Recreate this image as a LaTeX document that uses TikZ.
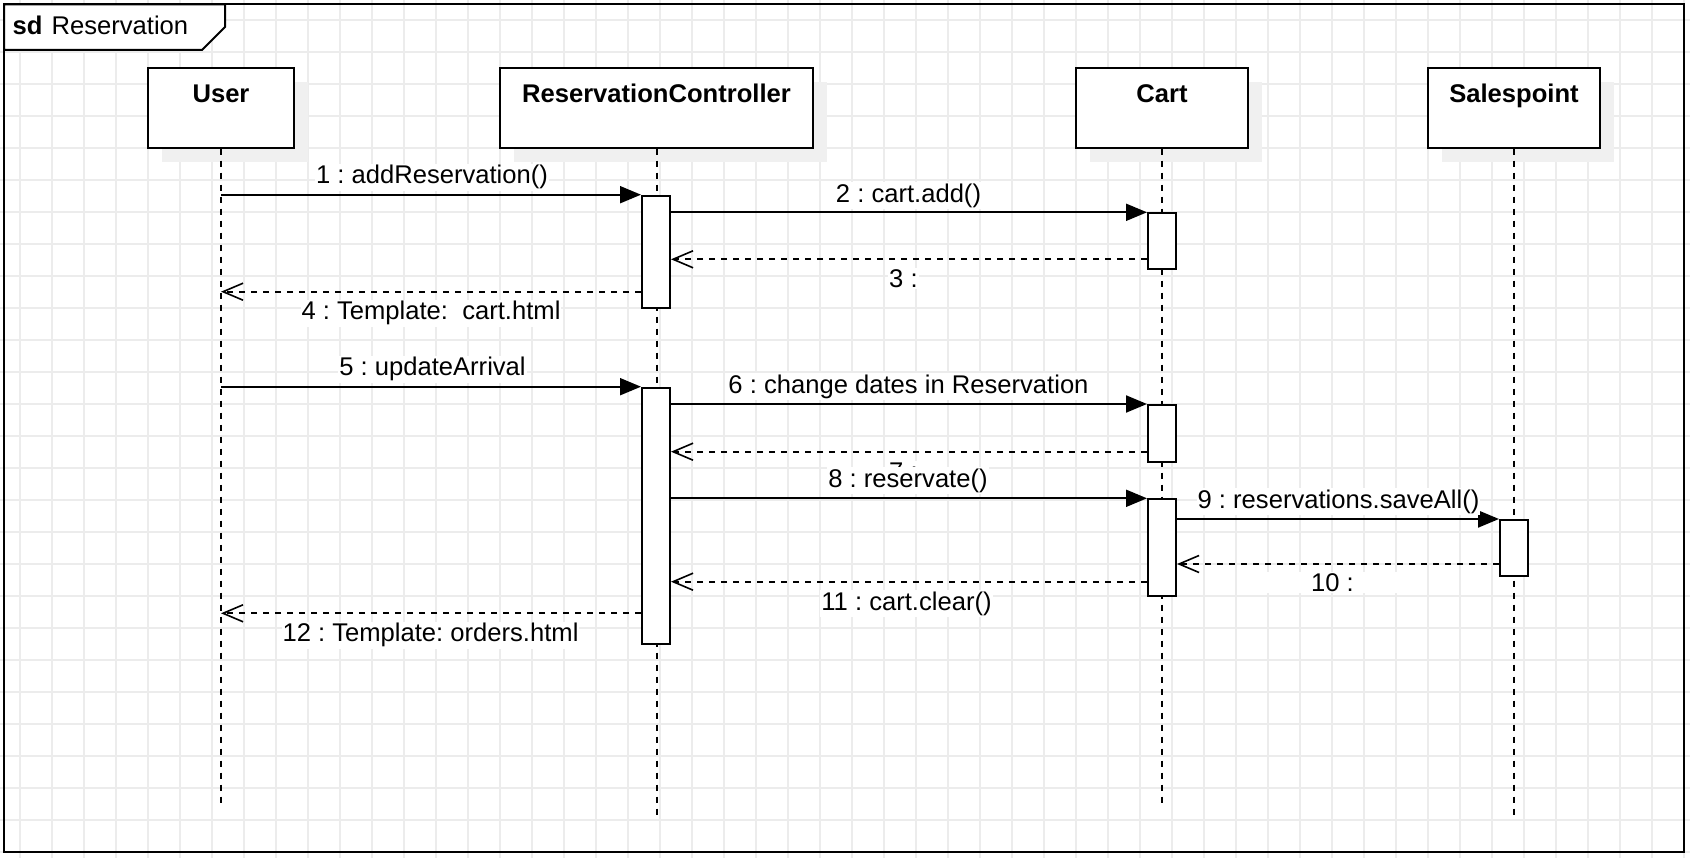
\documentclass[tikz,border=0pt]{standalone}
\usepackage{fontspec}
\setmainfont{Liberation Sans}
\usetikzlibrary{arrows.meta,calc,shadows}
\definecolor{gridline}{RGB}{236,236,236}
\definecolor{shadowgray}{RGB}{240,240,240}
\frenchspacing

\begin{document}
\begin{tikzpicture}[x=1pt,y=-1pt,
  every node/.style={font=\fontsize{25.6}{30}\selectfont},
  lifebox/.style={draw, line width=2pt, fill=white, inner sep=0pt,
    minimum height=80pt,
    general shadow={fill=shadowgray, shadow xshift=14pt, shadow yshift=-14pt}},
  boxname/.style={anchor=base, inner sep=0pt, font=\fontsize{25.6}{30}\selectfont\bfseries},
  lifeline/.style={line width=2pt, dash pattern=on 6pt off 6pt},
  actbox/.style={draw, line width=2pt, fill=white, inner sep=0pt, minimum width=28pt},
  call/.style={line width=2pt, -{Triangle[length=21pt,width=17pt]}},
  reply/.style={line width=2pt, dash pattern=on 6pt off 6pt,
    -{Straight Barb[length=20pt,width=17pt,line width=1.6pt]}},
  msg/.style={anchor=base, fill=white, inner xsep=1pt, inner ysep=1.5pt},
  msgw/.style={anchor=base west, fill=white, inner xsep=1pt, inner ysep=1.5pt}]

\useasboundingbox (0,0) rectangle (1690,858);

% background grid
\foreach \x in {20,52,...,1684} \draw[gridline, line width=1.3pt] (\x,0) -- (\x,858);
\foreach \y in {20,52,...,852} \draw[gridline, line width=1.3pt] (0,\y) -- (1690,\y);

% sequence frame with its name tab
\draw[line width=2pt] (4,4.5) rectangle (1684,852);
\draw[line width=2pt, fill=white] (4,4.5) -- (225,4.5) -- (225,27) -- (202,50) -- (4,50) -- cycle;
\node[anchor=base west, inner sep=0pt] (title) at (12.5,34.3) {\textbf{sd}\kern9pt Reservation};

% participants
\node[lifebox, minimum width=146pt] (user) at (221,107.7) {};
\node[lifebox, minimum width=313pt] (ctrl) at (656.5,107.7) {};
\node[lifebox, minimum width=171.6pt] (cart) at (1162,107.7) {};
\node[lifebox, minimum width=171.6pt] (sp) at (1514,107.7) {};
\node[boxname] (userlbl) at ($(user.north)+(0,35.5)$) {User};
\node[boxname] (ctrllbl) at ($(ctrl.north)+(0,35.5)$) {ReservationController};
\node[boxname] (cartlbl) at ($(cart.north)+(0,35.5)$) {Cart};
\node[boxname] (splbl) at ($(sp.north)+(0,35.5)$) {Salespoint};

% lifelines
\coordinate (userend) at (221,806);
\coordinate (ctrlend) at (656.5,819);
\coordinate (cartend) at (1162,806);
\coordinate (spend) at (1514,819);
\draw[lifeline] (user.south) -- (userend);
\draw[lifeline] (ctrl.south) -- (ctrlend);
\draw[lifeline] (cart.south) -- (cartend);
\draw[lifeline] (sp.south) -- (spend);

% activations
\node[actbox, minimum height=112pt] (a1) at (656,251.7) {};
\node[actbox, minimum height=56pt] (c1) at (1162,241.3) {};
\node[actbox, minimum height=256.3pt] (a2) at (656,515.85) {};
\node[actbox, minimum height=56.7pt] (c2) at (1162,433.35) {};
\node[actbox, minimum height=96.7pt] (c3) at (1162,547.65) {};
\node[actbox, minimum height=56pt] (s1) at (1514,548) {};

% messages
\draw[call] (user.south |- a1.north west) -- (a1.north west);
\draw[call] (a1.east |- c1.north west) -- (c1.north west);
\draw[reply] (c1.west |- 0,259.3) -- (a1.east |- 0,259.3);
\draw[reply] (a1.west |- 0,291.7) -- (user.south |- 0,291.7);
\draw[call] (user.south |- a2.north west) -- (a2.north west);
\draw[call] (a2.east |- c2.north west) -- (c2.north west);
\draw[reply] (c2.west |- 0,451.7) -- (a2.east |- 0,451.7);
\draw[call] (a2.east |- c3.north west) -- (c3.north west);
\draw[call] (c3.east |- s1.north west) -- (s1.north west);
\draw[reply] (s1.west |- 0,564) -- (c3.east |- 0,564);
\draw[reply] (c3.west |- 0,581.7) -- (a2.east |- 0,581.7);
\draw[reply] (a2.west |- 0,613.3) -- (user.south |- 0,613.3);

% message labels (the label of 8 sits over the label of 7)
\node[msg] (m1) at (432,184) {1 : addReservation()};
\node[msg] (m2) at (908.5,202.3) {2 : cart.add()};
\node[msgw] (m3) at (888,287.3) {3 :};
\node[msg] (m4) at (431,320) {4 : Template:\ \ cart.html};
\node[msg] (m5) at (432.5,376) {5 : updateArrival};
\node[msg] (m6) at (908.5,393.3) {6 : change dates in Reservation};
\node[msgw] (m7) at (888,480) {7 :};
\node[msg] (m8) at (908,487.3) {8 : reservate()};
\node[msg] (m9) at (1338.5,508.3) {9 : reservations.saveAll()};
\node[msg, minimum width=175pt] (m10) at (1337.5,591.7) {10 :\kern10pt};
\node[msg] (m11) at (906.5,610) {11 : cart.clear()};
\node[msg] (m12) at (430.5,641.7) {12 : Template: orders.html};
\end{tikzpicture}
\end{document}
